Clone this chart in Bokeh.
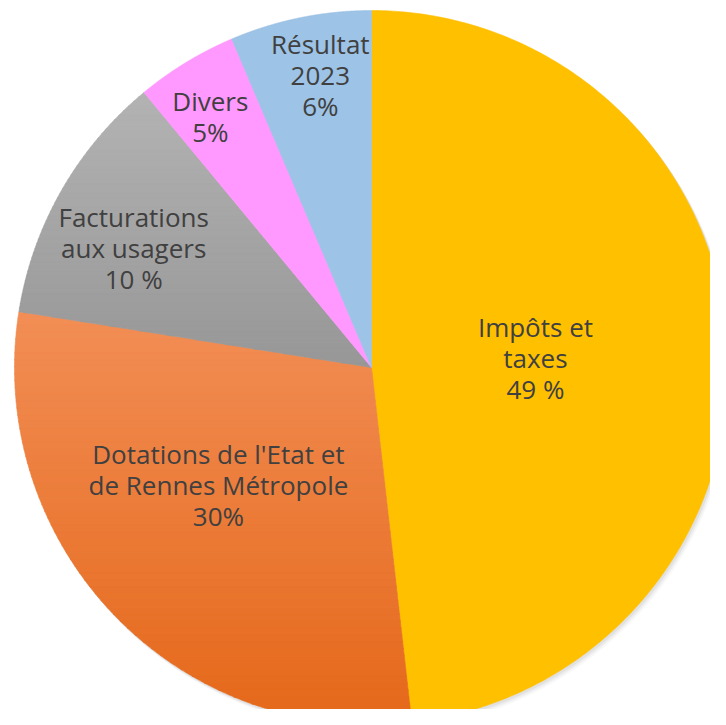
import numpy as np
from bokeh.plotting import figure
from bokeh.models import Range1d
from bokeh.core.properties import value
from bokeh.embed import file_html
from bokeh.resources import INLINE

# ---- data ----
categories = ["Impôts et taxes", "Dotations de l'Etat et de Rennes Métropole",
              "Facturations aux usagers", "Divers", "Résultat 2023"]
shares = [48.2, 29.3, 11.5, 4.6, 6.4]
labels = ["Impôts et\ntaxes\n49 %", "Dotations de l'Etat et\nde Rennes Métropole\n30%",
          "Facturations\naux usagers\n10 %", "Divers\n5%", "Résultat\n2023\n6%"]
top_colors = ["#FFC000", "#F28E55", "#B3B3B3", "#FF99FF", "#9DC3E6"]
bottom_colors = ["#FFC000", "#E5681A", "#979797", "#FF99FF", "#9DC3E6"]

# ---- label placement (fraction of radius, angular nudge in degrees, clockwise) ----
label_radius = [0.46, 0.54, 0.745, 0.835, 0.832]
label_nudge = [0.0, 6.3, -3.1, -1.4, 1.6]

# ---- layout ----
W, H = 710, 709
cx, cy, R = 371.0, 342.0, 357.0

p = figure(width=W, height=H, output_backend="svg", toolbar_location=None,
           x_range=Range1d(0, W), y_range=Range1d(0, H), min_border=0)
p.axis.visible = False
p.grid.visible = False
p.outline_line_color = None
p.background_fill_color = "white"


def hex2rgb(h):
    h = h.lstrip("#")
    return np.array([int(h[i:i + 2], 16) for i in (0, 2, 4)], dtype=float)


def rgb2hex(c):
    return "#%02x%02x%02x" % tuple(int(round(v)) for v in c)


def clip_y(poly, ylo, yhi):
    def clip(pts, keep, inter):
        out = []
        n = len(pts)
        for i in range(n):
            a, b = pts[i - 1], pts[i]
            ka, kb = keep(a), keep(b)
            if kb:
                if not ka:
                    out.append(inter(a, b))
                out.append(b)
            elif ka:
                out.append(inter(a, b))
        return out

    def iy(yv):
        def f(a, b):
            t = (yv - a[1]) / (b[1] - a[1])
            return (a[0] + t * (b[0] - a[0]), yv)
        return f

    pts = clip(poly, lambda q: q[1] >= ylo, iy(ylo))
    if not pts:
        return []
    pts = clip(pts, lambda q: q[1] <= yhi, iy(yhi))
    return pts


# soft shadow
for off, a in [(5, 0.06), (3.5, 0.08), (2, 0.12)]:
    p.circle(x=cx + off * 0.8, y=cy - off, radius=R + 0.5, fill_color="#808080",
             fill_alpha=a, line_color=None)

total = sum(shares)
cum = 0.0
xs_all, ys_all, cols_all = [], [], []
for i, s in enumerate(shares):
    f0, f1 = cum / total, (cum + s) / total
    cum += s
    a0 = np.pi / 2 - 2 * np.pi * f0
    a1 = np.pi / 2 - 2 * np.pi * f1
    th = np.linspace(a0, a1, 300)
    poly = [(cx, cy)] + [(cx + R * np.cos(t), cy + R * np.sin(t)) for t in th]
    ymin = min(q[1] for q in poly)
    ymax = max(q[1] for q in poly)
    ctop, cbot = hex2rgb(top_colors[i]), hex2rgb(bottom_colors[i])
    nb = 60 if top_colors[i] != bottom_colors[i] else 1
    edges = np.linspace(ymax, ymin, nb + 1)
    for b in range(nb):
        yhi, ylo = edges[b], edges[b + 1]
        piece = clip_y(poly, ylo - 0.3, yhi + 0.3)
        if len(piece) < 3:
            continue
        t = (b + 0.5) / nb
        col = rgb2hex(ctop + (cbot - ctop) * t)
        xs_all.append([q[0] for q in piece])
        ys_all.append([q[1] for q in piece])
        cols_all.append(col)

p.patches(xs=xs_all, ys=ys_all, fill_color=cols_all, line_color=cols_all, line_width=0.6)

# labels
cum = 0.0
lx, ly = [], []
for i, s in enumerate(shares):
    fm = (cum + s / 2) / total
    cum += s
    am = np.pi / 2 - 2 * np.pi * fm - np.radians(label_nudge[i])
    lx.append(cx + label_radius[i] * R * np.cos(am))
    ly.append(cy + label_radius[i] * R * np.sin(am))

p.text(x=lx, y=ly, text=labels, text_align="center", text_baseline="middle",
       text_font=value("Open Sans"), text_font_size="26px", text_color="#404040",
       text_line_height=0.86)

open("out.html", "w").write(file_html(p, INLINE))
